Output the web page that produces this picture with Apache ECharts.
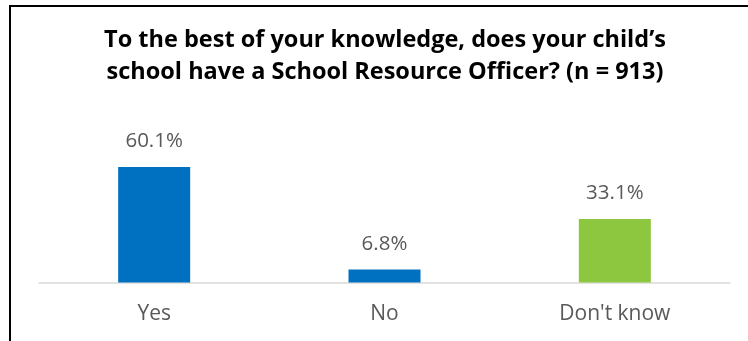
<!DOCTYPE html>
<html>
<head>
<meta charset="utf-8">
<script src="https://cdn.jsdelivr.net/npm/echarts@6/dist/echarts.min.js"></script>
<style>
  html, body { margin: 0; padding: 0; background: #ffffff; }
  #chart { width: 748px; height: 341px; }
</style>
</head>
<body>
<div id="chart"></div>
<script>
// Survey responses: does the child's school have a School Resource Officer?
const titleLines = [
  "To the best of your knowledge, does your child\u2019s",
  "school have a School Resource Officer? (n = 913)"
];
const categories = ["Yes", "No", "Don't know"];
const percentages = [60.1, 6.8, 33.1];
const barColors = ["#0070C0", "#0070C0", "#8DC63F"];

const chart = echarts.init(document.getElementById('chart'), null, { renderer: 'canvas' });

chart.setOption({
  animation: false,
  backgroundColor: '#ffffff',
  title: {
    text: titleLines.join('\n'),
    left: 385,
    top: 24,
    textAlign: 'center',
    padding: 0,
    textStyle: {
      fontFamily: '"Open Sans", sans-serif',
      fontWeight: 'bold',
      fontSize: 23.5,
      lineHeight: 32,
      color: '#000000'
    }
  },
  graphic: [{
    // frame around the chart area (left and top edges visible)
    type: 'rect',
    silent: true,
    shape: { x: 10, y: 6, width: 900, height: 500 },
    style: { fill: 'none', stroke: '#000000', lineWidth: 2 }
  }],
  grid: { left: 39, right: 18, top: 148, bottom: 58.5 },
  xAxis: {
    type: 'category',
    data: categories,
    axisLine: { show: true, lineStyle: { color: '#D9D9D9', width: 1.5 } },
    axisTick: { show: false },
    axisLabel: {
      margin: 21,
      fontFamily: '"Open Sans", sans-serif',
      fontSize: 21,
      color: '#595959'
    }
  },
  yAxis: {
    type: 'value',
    min: 0,
    max: 70,
    interval: 10,
    show: false,
    splitLine: { show: false }
  },
  series: [{
    type: 'bar',
    barWidth: 72,
    data: percentages.map((v, i) => ({ value: v, itemStyle: { color: barColors[i] } })),
    label: {
      show: true,
      position: 'top',
      distance: 15,
      formatter: p => p.value.toFixed(1) + '%',
      fontFamily: '"Open Sans", sans-serif',
      fontSize: 20.5,
      color: '#595959'
    }
  }]
});
</script>
</body>
</html>
